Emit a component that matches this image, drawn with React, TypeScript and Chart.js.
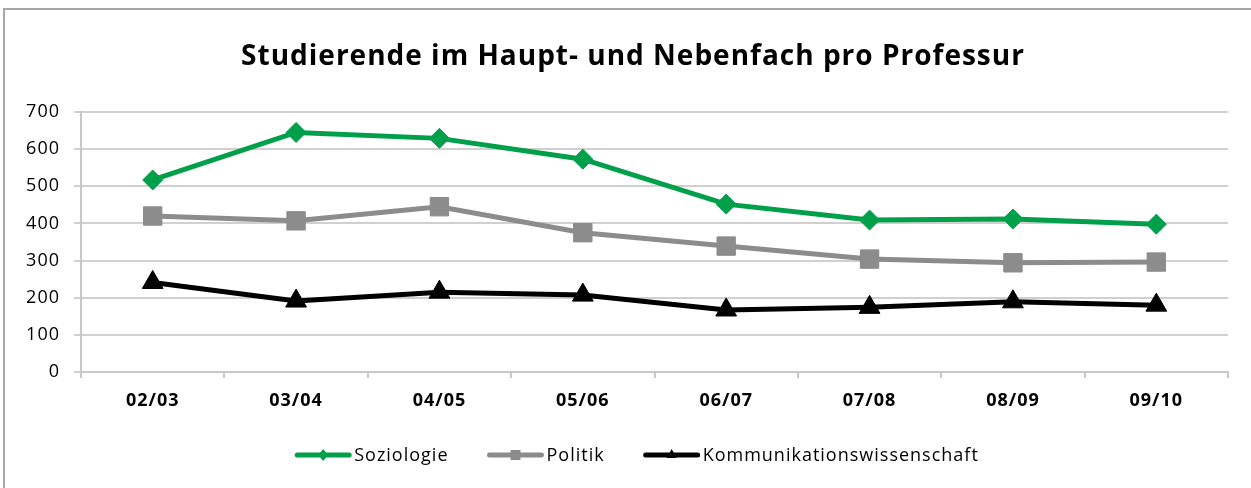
import React, { useEffect, useRef } from "react";
import { Chart, registerables } from "chart.js";
Chart.register(...registerables);

const title = "Studierende im Haupt- und Nebenfach pro Professur";
const categories = ["02/03", "03/04", "04/05", "05/06", "06/07", "07/08", "08/09", "09/10"];
const soziologie = [517, 645, 629, 573, 452, 409, 412, 398];
const politik = [420, 407, 445, 375, 339, 304, 294, 296];
const kommunikation = [241, 191, 215, 207, 167, 174, 189, 180];
const seriesNames = ["Soziologie", "Politik", "Kommunikationswissenschaft"];
const seriesColors = ["#00A04B", "#8C8C8C", "#000000"];
const seriesMarkers = ["rectRot", "rect", "triangle"];
const yMin = 0;
const yMax = 700;
const yStep = 100;

const FONT = "'Open Sans', 'Noto Sans', sans-serif";

const spacingPlugin = {
  id: "letterSpacing",
  beforeInit(chart: any) {
    chart.ctx.letterSpacing = "1px";
  },
  beforeLayout(chart: any) {
    chart.ctx.letterSpacing = "1px";
  },
  beforeDraw(chart: any) {
    chart.ctx.letterSpacing = "1px";
  },
};

const titlePlugin = {
  id: "customTitle",
  afterDraw(chart: any) {
    const ctx = chart.ctx;
    ctx.save();
    ctx.letterSpacing = "1px";
    ctx.font = `bold 28px ${FONT}`;
    ctx.fillStyle = "#000";
    ctx.textAlign = "center";
    ctx.textBaseline = "alphabetic";
    ctx.fillText(title, 633, 65);
    ctx.restore();
  },
};

const legendPlugin = {
  id: "lineLegend",
  afterDraw(chart: any) {
    const ctx = chart.ctx;
    const ds = chart.data.datasets;
    ctx.save();
    ctx.letterSpacing = "1px";
    ctx.font = `18px ${FONT}`;
    const lineLen = 56;
    const gapText = 3;
    const gapItem = 39;
    const widths = ds.map((d: any) => ctx.measureText(d.label).width);
    let total = 0;
    widths.forEach((w: number, i: number) => {
      total += lineLen + gapText + w + (i < widths.length - 1 ? gapItem : 0);
    });
    let x = 637 - total / 2;
    const y = 455;
    ds.forEach((d: any, i: number) => {
      ctx.strokeStyle = d.borderColor;
      ctx.lineWidth = 5;
      ctx.lineCap = "round";
      ctx.beginPath();
      ctx.moveTo(x + 2, y);
      ctx.lineTo(x + lineLen - 2, y);
      ctx.stroke();
      ctx.fillStyle = d.borderColor;
      const cx = x + lineLen / 2;
      ctx.beginPath();
      if (d.pointStyle === "rect") {
        ctx.rect(cx - 5, y - 5, 10, 10);
      } else if (d.pointStyle === "rectRot") {
        ctx.moveTo(cx, y - 6);
        ctx.lineTo(cx + 5, y);
        ctx.lineTo(cx, y + 6);
        ctx.lineTo(cx - 5, y);
      } else {
        ctx.moveTo(cx, y - 6);
        ctx.lineTo(cx + 5, y + 3);
        ctx.lineTo(cx - 5, y + 3);
      }
      ctx.closePath();
      ctx.fill();
      ctx.fillStyle = "#000";
      ctx.textBaseline = "middle";
      ctx.textAlign = "left";
      ctx.fillText(d.label, x + lineLen + gapText, y + 1);
      x += lineLen + gapText + widths[i] + gapItem;
    });
    ctx.restore();
  },
};

export default function App() {
  const ref = useRef<HTMLCanvasElement | null>(null);
  useEffect(() => {
    if (!ref.current) return;
    const allData = [soziologie, politik, kommunikation];
    const chart = new Chart(ref.current, {
      type: "line",
      data: {
        labels: categories,
        datasets: allData.map((vals, i) => ({
          label: seriesNames[i],
          data: vals,
          borderColor: seriesColors[i],
          backgroundColor: seriesColors[i],
          borderWidth: 5,
          pointStyle: seriesMarkers[i] as any,
          pointRadius: i === 1 ? 13 : i === 0 ? 10 : 12,
          pointBorderWidth: 1,
          pointBackgroundColor: seriesColors[i],
          pointBorderColor: seriesColors[i],
          tension: 0,
          fill: false,
        })),
      },
      plugins: [spacingPlugin, titlePlugin, legendPlugin],
      options: {
        responsive: false,
        animation: false,
        devicePixelRatio: 1,
        layout: { padding: { left: 0, right: 23, top: 112, bottom: 0 } },
        plugins: {
          legend: { display: false },
          tooltip: { enabled: false },
          title: { display: false },
        },
        scales: {
          x: {
            type: "category",
            offset: true,
            grid: {
              offset: true,
              drawOnChartArea: false,
              drawTicks: true,
              tickLength: 6,
              color: "#C8C8C8",
              lineWidth: 2,
            },
            border: { display: true, color: "#C8C8C8", width: 2 },
            ticks: {
              color: "#000",
              padding: 12,
              font: { family: FONT, size: 18, weight: "bold" },
              maxRotation: 0,
            },
            afterFit(scale: any) {
              scale.height = 116;
            },
          },
          y: {
            min: yMin,
            max: yMax,
            ticks: {
              stepSize: yStep,
              color: "#000",
              padding: 14,
              font: { family: FONT, size: 18 },
            },
            grid: {
              color: "#D0D0D0",
              lineWidth: 2,
              tickLength: 7,
              drawTicks: true,
            },
            border: { display: true, color: "#C8C8C8", width: 2 },
            afterFit(scale: any) {
              scale.width = 81;
            },
          },
        },
      },
    });
    return () => chart.destroy();
  }, []);
  return (
    <div style={{ position: "fixed", inset: 0, overflow: "hidden", background: "#fff" }}>
      <div
        style={{
          position: "absolute",
          left: 3,
          top: 8,
          width: 1400,
          height: 700,
          border: "2px solid #A6A6A6",
          boxSizing: "border-box",
        }}
      />
      <canvas
        ref={ref}
        width={1251}
        height={488}
        style={{ position: "absolute", left: 0, top: 0, width: 1251, height: 488 }}
      />
    </div>
  );
}
